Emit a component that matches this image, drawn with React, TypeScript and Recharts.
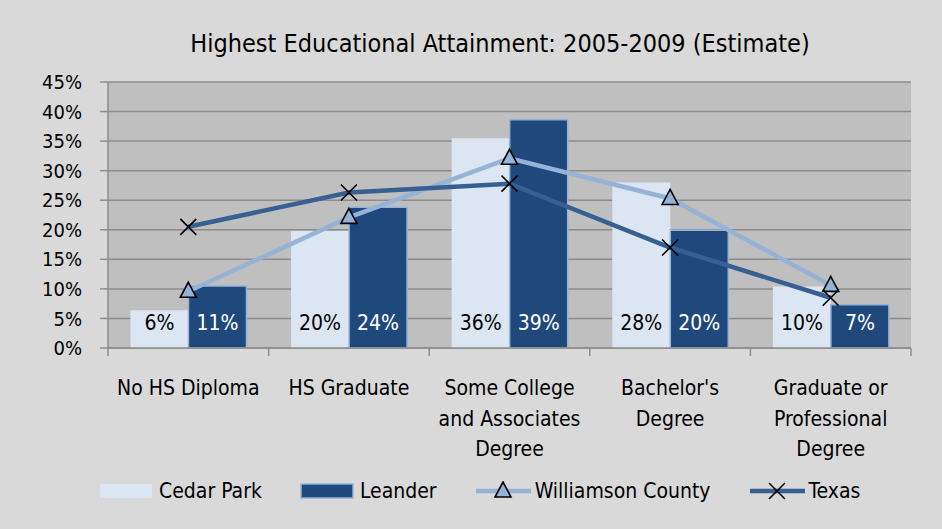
import React from 'react';
import {
    ComposedChart,
    Bar,
    Line,
    XAxis,
    YAxis,
    CartesianGrid,
    Legend,
    LabelList
} from 'recharts';

const categories = [
    'No HS Diploma',
    'HS Graduate',
    'Some College\nand Associates\nDegree',
    "Bachelor's\nDegree",
    'Graduate or\nProfessional\nDegree'
];
const cedarPark = [6.4, 19.8, 35.5, 28.0, 10.4];
const leander = [10.5, 23.8, 38.6, 19.9, 7.3];
const williamson = [9.6, 22.1, 32.1, 25.3, 10.6];
const texas = [20.5, 26.3, 27.8, 17.0, 8.5];
const yTicks = [0, 5, 10, 15, 20, 25, 30, 35, 40, 45];

const FONT = '"Liberation Sans Narrow", "Arial Narrow", "DejaVu Sans Condensed", sans-serif';
const GRID = '#8c8c8c';

const data = categories.map((name, i) => ({
    name,
    cedar: cedarPark[i],
    leander: leander[i],
    williamson: williamson[i],
    texas: texas[i]
}));

// category label plus the small tick marks at the category edges
const CategoryTick = (props: any) => {
    const { x, y, payload, index, visibleTicksCount, width } = props;
    const lines = String(payload.value).split('\n');
    const half = payload.offset || (width && visibleTicksCount ? width / visibleTicksCount / 2 : 0);
    const isLast = index === visibleTicksCount - 1;
    return (
        <g>
            {half > 0 && <line x1={x - half} y1={y} x2={x - half} y2={y + 8} stroke={GRID} strokeWidth={1.5} />}
            {half > 0 && isLast && <line x1={x + half} y1={y} x2={x + half} y2={y + 8} stroke={GRID} strokeWidth={1.5} />}
            <text x={x} y={y} textAnchor="middle" fill="#000" fontSize={21} fontFamily={FONT}>
                {lines.map((l, i) => (
                    <tspan key={i} x={x} dy={i === 0 ? 47 : 30.5}>{l}</tspan>
                ))}
            </text>
        </g>
    );
};

const barLabel = (color: string) => (props: any) => {
    const { x, y, width, height, value } = props;
    return (
        <text x={x + width / 2} y={y + height - 18} textAnchor="middle" fill={color} fontSize={21} fontFamily={FONT}>
            {Math.round(value)}%
        </text>
    );
};

const Triangle = ({ cx, cy }: any) => (
    <path d={`M${cx},${cy - 9} L${cx + 8},${cy + 6} L${cx - 8},${cy + 6} Z`} fill="#95b3d7" stroke="#000" strokeWidth={1.6} />
);

const Cross = ({ cx, cy }: any) => (
    <path d={`M${cx - 8},${cy - 8} L${cx + 8},${cy + 8} M${cx + 8},${cy - 8} L${cx - 8},${cy + 8}`} stroke="#000" strokeWidth={1.6} fill="none" />
);

const legendItems = [
    { label: 'Cedar Park', kind: 'cedar' },
    { label: 'Leander', kind: 'leander' },
    { label: 'Williamson County', kind: 'williamson' },
    { label: 'Texas', kind: 'texas' }
];

const LegendIcon = ({ kind }: { kind: string }) => (
    <svg width={56} height={20} style={{ marginRight: 4 }}>
        {kind === 'cedar' && <rect x={1} y={3} width={52} height={14} fill="#dce6f2" />}
        {kind === 'leander' && <rect x={1} y={3} width={52} height={14} fill="#1f497d" stroke="#95b3d7" strokeWidth={1.5} />}
        {kind === 'williamson' && (
            <>
                <line x1={1} y1={10} x2={56} y2={10} stroke="#95b3d7" strokeWidth={4.5} />
                <Triangle cx={28} cy={10} />
            </>
        )}
        {kind === 'texas' && (
            <>
                <line x1={1} y1={10} x2={56} y2={10} stroke="#376092" strokeWidth={4.5} />
                <Cross cx={28} cy={10} />
            </>
        )}
    </svg>
);

const renderLegend = () => (
    <div style={{ display: 'flex', alignItems: 'center', fontFamily: FONT, fontSize: 21, color: '#000' }}>
        {legendItems.map((it) => (
            <div key={it.kind} style={{ display: 'flex', alignItems: 'center', marginRight: 38 }}>
                <LegendIcon kind={it.kind} />
                <span>{it.label}</span>
            </div>
        ))}
    </div>
);

const App = () => {
    return (
        <div style={{ position: 'absolute', left: 0, top: 0, width: 942, height: 529, background: '#d9d9d9', overflow: 'hidden' }}>
            <div style={{ position: 'absolute', left: 58, top: 29, width: 884, textAlign: 'center', fontFamily: FONT, fontSize: 25, color: '#000' }}>
                Highest Educational Attainment: 2005-2009 (Estimate)
            </div>
            <ComposedChart
                width={942}
                height={529}
                data={data}
                margin={{ top: 82, right: 31, left: 0, bottom: 20 }}
                barCategoryGap="14%"
                barGap={0}
            >
                <CartesianGrid vertical={false} stroke={GRID} strokeWidth={1.5} fill="#bfbfbf" />
                <XAxis
                    dataKey="name"
                    height={131}
                    tickLine={false}
                    tickSize={0}
                    tickMargin={0}
                    axisLine={{ stroke: GRID, strokeWidth: 1.5 }}
                    tick={<CategoryTick />}
                    interval={0}
                />
                <YAxis
                    width={108}
                    domain={[0, 45]}
                    ticks={yTicks}
                    interval={0}
                    tickFormatter={(v) => `${v}%`}
                    tickSize={8}
                    tickMargin={18}
                    tickLine={{ stroke: GRID, strokeWidth: 1.5 }}
                    axisLine={{ stroke: GRID, strokeWidth: 1.5 }}
                    tick={{ fill: '#000', fontSize: 20, fontFamily: FONT }}
                />
                <Legend
                    verticalAlign="bottom"
                    height={30}
                    content={renderLegend}
                    wrapperStyle={{ left: 99, width: 'auto' }}
                />
                <Bar dataKey="cedar" fill="#dce6f2" isAnimationActive={false}>
                    <LabelList dataKey="cedar" content={barLabel('#000')} />
                </Bar>
                <Bar dataKey="leander" fill="#1f497d" stroke="#95b3d7" strokeWidth={1.5} isAnimationActive={false}>
                    <LabelList dataKey="leander" content={barLabel('#fff')} />
                </Bar>
                <Line
                    dataKey="williamson"
                    stroke="#95b3d7"
                    strokeWidth={4.5}
                    dot={<Triangle />}
                    activeDot={false}
                    isAnimationActive={false}
                />
                <Line
                    dataKey="texas"
                    stroke="#376092"
                    strokeWidth={4.5}
                    dot={<Cross />}
                    activeDot={false}
                    isAnimationActive={false}
                />
            </ComposedChart>
        </div>
    );
};

export default App;
